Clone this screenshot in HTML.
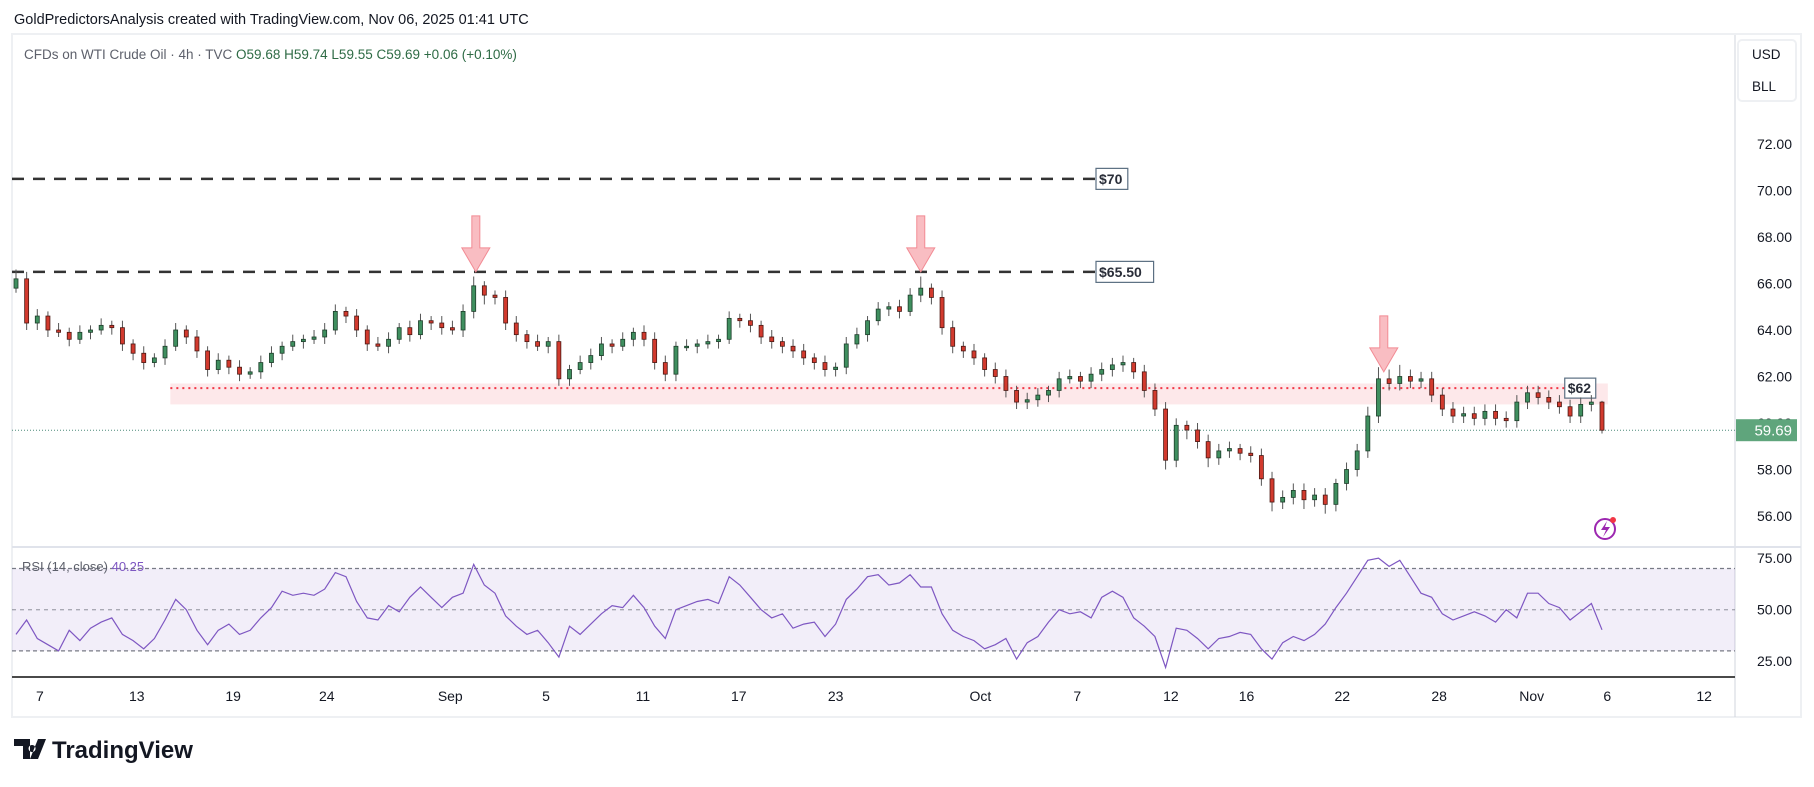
<!DOCTYPE html>
<html><head><meta charset="utf-8">
<style>
html,body{margin:0;padding:0;background:#fff;}
body{width:1814px;height:787px;position:relative;overflow:hidden;font-family:"Liberation Sans",sans-serif;}
svg{position:absolute;left:0;top:0;}
</style></head>
<body>
<svg id="chart" width="1814" height="787" viewBox="0 0 1814 787">
  <text x="14" y="24" font-size="14.5" fill="#131722">GoldPredictorsAnalysis created with TradingView.com, Nov 06, 2025 01:41 UTC</text>
  <rect x="12" y="34" width="1789" height="683" fill="none" stroke="#eef0f3" stroke-width="2"/>
  <line x1="1735" y1="35" x2="1735" y2="717" stroke="#d1d4dc" stroke-width="1"/>
  <line x1="12" y1="547" x2="1801" y2="547" stroke="#e0e3eb" stroke-width="2"/>
  <line x1="12" y1="677" x2="1735" y2="677" stroke="#4a4a4a" stroke-width="2"/>
  <g font-size="13.5">
    <text x="24" y="59" fill="#5d606b">CFDs on WTI Crude Oil · 4h · TVC <tspan fill="#2e6b45">O59.68</tspan> <tspan fill="#2e6b45"> H59.74</tspan> <tspan fill="#2e6b45"> L59.55</tspan> <tspan fill="#2e6b45"> C59.69</tspan> <tspan fill="#2e6b45"> +0.06 (+0.10%)</tspan></text>
  </g>
  <g>
    <rect x="1738" y="40" width="58" height="61" rx="4" fill="#fff" stroke="#eef0f3" stroke-width="2"/>
    <text x="1752" y="59" font-size="13.5" fill="#131722">USD</text>
    <text x="1752" y="91" font-size="13.5" fill="#131722">BLL</text>
  </g>
  <rect x="12" y="568.5" width="1723" height="82.4" fill="#7e57c2" fill-opacity="0.1"/>
  <g id="marks"></g>
  <g id="axes"></g>
  <g font-size="13">
    <text x="22" y="571" fill="#5d606b">RSI (14, close) <tspan fill="#7e57c2">40.25</tspan></text>
  </g>
  <g>
    <path d="M14 739 h16 v20 h-7 v-13 h-9z M32 745 a3.5 3.5 0 1 0 0.1 0z M38 739 h8 l-8 20 h-8z" fill="#131722"/>
    <text x="52" y="758" font-size="24" font-weight="bold" fill="#131722">TradingView</text>
  </g>
</svg>
<script>
const closes=[66.2,64.3,64.6,64.0,63.9,63.6,63.9,64.0,64.2,64.1,63.4,63.0,62.6,62.8,63.3,64.0,63.7,63.1,62.3,62.7,
62.4,62.1,62.2,62.6,63.0,63.3,63.5,63.6,63.7,64.0,64.8,64.6,64.0,63.4,63.3,63.6,64.1,63.8,64.4,64.3,
64.1,64.0,64.8,65.9,65.5,65.4,64.3,63.8,63.5,63.3,63.5,61.9,62.3,62.6,62.9,63.4,63.3,63.6,63.9,63.6,
62.6,62.1,63.3,63.3,63.4,63.5,63.6,64.5,64.4,64.2,63.7,63.5,63.3,63.1,62.8,62.6,62.3,62.4,63.4,63.8,
64.4,64.9,65.0,64.8,65.5,65.8,65.4,64.1,63.3,63.1,62.8,62.3,62.0,61.4,60.9,61.0,61.2,61.4,61.9,62.0,
61.8,62.1,62.3,62.5,62.6,62.2,61.4,60.6,58.4,59.9,59.7,59.2,58.5,58.8,58.9,58.7,58.6,57.6,56.6,56.8,
57.1,56.7,56.9,56.5,57.4,58.0,58.8,60.3,61.9,61.7,62.0,61.8,61.9,61.2,60.6,60.3,60.4,60.2,60.5,60.2,
60.1,60.9,61.3,61.1,60.9,60.7,60.3,60.8,60.9,59.69];
const hiExt=[0.4,0.3,0.3,0.2,0.3,0.2,0.3,0.2,0.3,0.2,0.3,0.2,0.3,0.2,0.3,0.3,0.2,0.3,0.2,0.3,
0.2,0.3,0.2,0.3,0.3,0.2,0.3,0.2,0.3,0.3,0.3,0.2,0.3,0.2,0.3,0.3,0.2,0.3,0.3,0.2,
0.3,0.3,0.3,0.4,0.2,0.2,0.3,0.3,0.2,0.3,0.2,0.3,0.2,0.3,0.3,0.3,0.2,0.3,0.2,0.3,
0.3,0.3,0.2,0.3,0.2,0.3,0.2,0.3,0.2,0.3,0.2,0.3,0.2,0.3,0.3,0.2,0.3,0.2,0.3,0.3,
0.2,0.3,0.2,0.3,0.3,0.5,0.2,0.3,0.3,0.2,0.3,0.2,0.3,0.3,0.2,0.3,0.3,0.2,0.3,0.3,
0.2,0.3,0.3,0.3,0.3,0.2,0.3,0.3,0.3,0.3,0.2,0.3,0.3,0.3,0.3,0.2,0.3,0.3,0.3,0.3,
0.3,0.3,0.3,0.3,0.2,0.3,0.3,0.4,0.5,0.4,0.5,0.3,0.3,0.3,0.3,0.3,0.3,0.3,0.3,0.3,
0.3,0.3,0.3,0.3,0.3,0.3,0.3,0.3,0.3,0.05];
const loExt=[0.2,0.3,0.3,0.3,0.2,0.3,0.2,0.3,0.2,0.3,0.3,0.3,0.3,0.2,0.3,0.2,0.3,0.3,0.3,0.2,
0.3,0.3,0.2,0.3,0.2,0.3,0.2,0.3,0.2,0.3,0.2,0.3,0.3,0.3,0.2,0.3,0.2,0.3,0.2,0.3,
0.3,0.2,0.3,0.3,0.4,0.3,0.3,0.3,0.3,0.2,0.3,0.3,0.3,0.2,0.3,0.2,0.3,0.2,0.3,0.3,
0.3,0.3,0.3,0.2,0.3,0.2,0.3,0.2,0.3,0.3,0.3,0.3,0.3,0.3,0.3,0.3,0.3,0.3,0.3,0.2,
0.3,0.2,0.3,0.3,0.2,0.3,0.3,0.3,0.3,0.3,0.3,0.3,0.3,0.3,0.3,0.3,0.3,0.3,0.3,0.2,
0.3,0.3,0.3,0.3,0.3,0.3,0.3,0.3,0.4,0.3,0.4,0.3,0.4,0.3,0.3,0.3,0.3,0.3,0.4,0.3,
0.3,0.4,0.3,0.4,0.3,0.3,0.3,0.3,0.3,0.3,0.3,0.3,0.3,0.3,0.3,0.3,0.3,0.3,0.3,0.3,
0.3,0.3,0.3,0.3,0.3,0.3,0.3,0.3,0.3,0.14];
const rsiVals=[38,45,36,33,30,40,35,41,44,46,38,35,31,36,45,55,50,40,33,40,
43,38,40,46,51,59,57,58,57,60,68,66,54,46,45,52,49,56,61,56,
51,56,58,72,62,58,47,42,38,40,34,27,42,38,43,48,52,51,57,51,
42,36,50,52,54,55,53,66,62,56,50,46,48,41,43,44,37,43,55,60,
66,67,62,63,67,61,61,48,40,37,35,31,33,36,26,34,37,44,50,48,
49,46,56,59,56,46,42,37,22,41,40,36,31,36,37,39,38,31,26,34,
37,35,38,43,51,58,66,74,75,71,74,66,58,56,48,45,47,49,47,44,
50,46,58,58,53,51,45,49,53,40.25];
const priceTicks=[72,70,68,66,64,62,60,58,56];
const rsiTicks=[75,50,25];
const rsiLevels=[70,50,30];
const timeLabels=["7","13","19","24","Sep","5","11","17","23","Oct","7","12","16","22","28","Nov","6","12"];
const timeLabelBars=[2.25,11.35,20.4,29.2,40.8,49.8,58.9,67.9,77.0,90.6,99.7,108.5,115.6,124.6,133.7,142.4,149.5,158.6];
const resistLevels=[70.5,66.5];
const resistText=["$70","$65.50"];
const zoneTop=61.7, zoneLine=61.5, zoneBottom=60.8;
const zoneStartBar=14.5, zoneEndBar=147.2, zoneLabelBar=145.5;
const arrowBars=[43.2,85.0,128.5];
const arrowTipPrice=[66.5,66.5,62.2];
const lastPrice=59.69;

const NS="http://www.w3.org/2000/svg";
const X0=16, X1=1602;
function xOf(i){return X0+(X1-X0)*i/(closes.length-1);}
function yP(p){return 144+(72-p)*23.25;}
function yR(v){return 568.5+(70-v)*2.06;}
function mk(tag,attrs,parent){const e=document.createElementNS(NS,tag);for(const k in attrs)e.setAttribute(k,attrs[k]);parent.appendChild(e);return e;}
const marks=document.getElementById('marks'), axes=document.getElementById('axes');

resistLevels.forEach((lv,k)=>{
  const l=mk('line',{x1:12,x2:1096,y1:yP(lv),y2:yP(lv),stroke:'#333','stroke-width':2.5,'stroke-dasharray':'12 9'},marks);
  
  
  const g=mk('g',{},marks);
  
  
  const w=resistText[k].length*8.6+6;
  mk('rect',{x:1096,y:yP(lv)-10.5,width:w,height:21,fill:'#fff',stroke:'#5b6f82','stroke-width':1.2},g);
  const t=mk('text',{x:1099,y:yP(lv)+5,'font-size':14,'font-weight':'bold',fill:'#2a2e39'},g);
  t.textContent=resistText[k];
});
const zr=mk('rect',{x:xOf(zoneStartBar),y:yP(zoneTop),width:xOf(zoneEndBar)+25-xOf(zoneStartBar),height:yP(zoneBottom)-yP(zoneTop),fill:'#fde8ea'},marks);


const zl=mk('line',{x1:xOf(zoneStartBar),x2:xOf(zoneLabelBar),y1:yP(zoneLine),y2:yP(zoneLine),stroke:'#f23645','stroke-width':2,'stroke-dasharray':'2 4'},marks);


const zg=mk('g',{},marks);


mk('rect',{x:xOf(zoneLabelBar),y:yP(zoneLine)-10,width:31,height:20,fill:'#fff',stroke:'#5b6f82','stroke-width':1.2},zg);
const zt=mk('text',{x:xOf(zoneLabelBar)+3,y:yP(zoneLine)+5,'font-size':14,'font-weight':'bold',fill:'#2a2e39'},zg);
zt.textContent='$62';
const lp=mk('line',{x1:12,x2:1735,y1:yP(lastPrice),y2:yP(lastPrice),stroke:'#4d8a7a','stroke-width':1,'stroke-dasharray':'1 2'},marks);



for(let i=0;i<closes.length;i++){
  const o=i===0?65.8:closes[i-1], c=closes[i];
  const hi=Math.max(o,c)+hiExt[i], lo=Math.min(o,c)-loExt[i];
  const up=c>=o, x=xOf(i);
  const g=mk('g',{},marks);
  
  
  mk('line',{x1:x,x2:x,y1:yP(hi),y2:yP(lo),stroke:'#555','stroke-width':1},g);
  const top=yP(Math.max(o,c)), h=Math.max(1.5,yP(Math.min(o,c))-top);
  mk('rect',{x:x-2,y:top,width:4,height:h,fill:up?'#3f8f5f':'#d23a2e',stroke:up?'#1d3d2a':'#4b1813','stroke-width':0.8},g);
}
arrowBars.forEach((b,k)=>{
  const x=xOf(b), ty=yP(arrowTipPrice[k]);
  const a=mk('path',{d:`M${x-4} ${ty-56} L${x+4} ${ty-56} L${x+4} ${ty-24} L${x+14} ${ty-24} L${x} ${ty} L${x-14} ${ty-24} L${x-4} ${ty-24}Z`,fill:'#f7a1a8','fill-opacity':0.7,stroke:'#f28b94','stroke-width':1},marks);
  
  
});
rsiLevels.forEach(v=>{
  const l=mk('line',{x1:12,x2:1735,y1:yR(v),y2:yR(v),stroke:'#787b86','stroke-width':1.3,'stroke-dasharray':v===50?'4 4':'4 3','stroke-opacity':v===50?0.6:1},marks);
  
  
});
let d='';
rsiVals.forEach((v,i)=>{d+=(i?'L':'M')+xOf(i).toFixed(1)+' '+yR(v).toFixed(1);});
const rl=mk('path',{d:d,fill:'none',stroke:'#7e57c2','stroke-width':1.2},marks);



priceTicks.forEach(p=>{
  const t=mk('text',{x:1792,y:yP(p)+5,'text-anchor':'end','font-size':14,fill:'#131722'},axes);
  
  
  t.textContent=p.toFixed(2);
});
const pg=mk('g',{},axes);


mk('rect',{x:1736,y:yP(lastPrice)-11,width:61,height:22,fill:'#5fa57c'},pg);
const pt=mk('text',{x:1792,y:yP(lastPrice)+5.5,'text-anchor':'end','font-size':15,fill:'#fff'},pg);
pt.textContent=lastPrice.toFixed(2);
rsiTicks.forEach(v=>{
  const t=mk('text',{x:1792,y:yR(v)+5,'text-anchor':'end','font-size':14,fill:'#131722'},axes);
  
  
  t.textContent=v.toFixed(2);
});
timeLabels.forEach((s,k)=>{
  const t=mk('text',{x:xOf(timeLabelBars[k]),y:701,'text-anchor':'middle','font-size':14,fill:'#131722'},axes);
  
  
  t.textContent=s;
});
const lg=mk('g',{},axes);


mk('circle',{cx:1605,cy:529,r:10,fill:'none',stroke:'#9c27b0','stroke-width':2},lg);
mk('path',{d:'M1607 521 L1601 530 L1606 530 L1603 537 L1610 527 L1605 527Z',fill:'#9c27b0'},lg);
mk('circle',{cx:1613,cy:520,r:3,fill:'#f23645'},lg);
</script>
</body></html>
